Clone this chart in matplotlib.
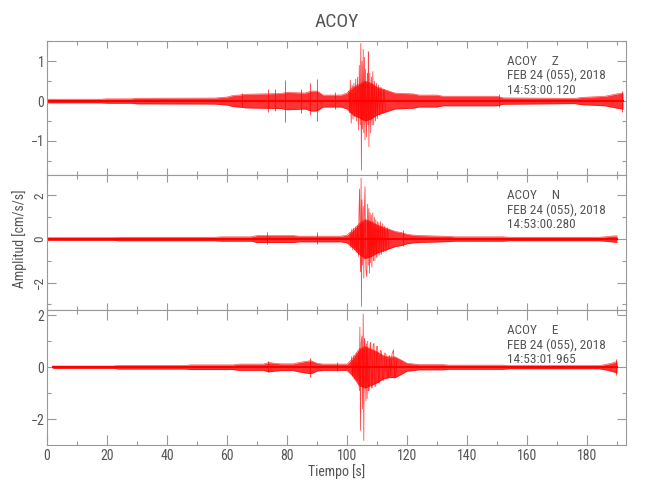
import numpy as np
import matplotlib
matplotlib.use("Agg")
import matplotlib.pyplot as plt
from matplotlib import font_manager
from matplotlib.ticker import MultipleLocator, FixedLocator

# ---------------- data ----------------
station = "ACOY"
components = ["Z", "N", "E"]
date_text = "FEB 24 (055), 2018"
start_times = ["14:53:00.120", "14:53:00.280", "14:53:01.965"]

# Z component: typical amplitude envelope (knots), isolated bursts, strong-phase peaks
z_env_t = [0, 18, 20, 28, 30, 56, 58, 60, 62, 64, 66, 78, 80, 86, 88, 90, 92, 98, 100, 102,
           104, 106, 108, 110, 112, 114, 116, 122, 124, 130, 132, 150, 152, 176, 178, 186,
           188, 190, 192]
z_env_v = [0.045, 0.045, 0.055, 0.055, 0.07, 0.075, 0.09, 0.1, 0.14, 0.15, 0.17, 0.19, 0.22,
           0.2, 0.25, 0.25, 0.15, 0.15, 0.2, 0.35, 0.42, 0.5, 0.45, 0.35, 0.3, 0.25, 0.2,
           0.18, 0.15, 0.15, 0.12, 0.12, 0.08, 0.065, 0.09, 0.12, 0.15, 0.18, 0.2]
z_burst_t = [65, 73.5, 76, 79.4, 84.5, 87.5, 89.9, 96, 150.5, 191.5]
z_burst_hi = [0.19, 0.3, 0.3, 0.53, 0.3, 0.46, 0.55, 0.22, 0.17, 0.25]
z_burst_lo = [-0.15, -0.28, -0.25, -0.52, -0.3, -0.35, -0.5, -0.2, -0.16, -0.28]
z_spk_t = [100.6, 100.9, 101.1, 101.4, 101.7, 102.0, 102.3, 102.6, 102.9, 103.2,
           103.5, 103.8, 104.1, 104.4, 104.6, 104.8, 105.0, 105.2, 105.4, 105.6,
           105.8, 106.0, 106.2, 106.5, 106.8, 107.0, 107.1, 107.3, 107.6, 107.9,
           108.2, 108.4, 108.6, 108.9, 109.2, 109.5, 109.8, 110.1, 110.5, 110.9,
           111.3, 111.8, 112.3, 112.8]
z_spk_v = [0.25, -0.30, 0.53, -0.56, 0.40, -0.45, 0.45, -0.40, 0.55, -0.50,
           0.60, -0.73, 0.90, -0.60, 1.45, -1.74, 1.00, -0.70, 1.30, -0.80,
           1.10, -0.98, 0.80, -0.90, 0.70, -0.60, 1.24, -1.15, 0.70, -0.80,
           0.60, -0.60, 0.74, -0.60, 0.50, -0.50, 0.45, -0.45, 0.40, -0.35,
           0.35, -0.30, 0.30, -0.25]

# N component
n_env_t = [0, 22, 24, 56, 58, 68, 70, 82, 84, 98, 100, 102, 104, 106, 108, 110, 112, 114,
           116, 118, 120, 122, 124, 134, 136, 152, 154, 184, 186, 188, 190]
n_env_v = [0.06, 0.06, 0.08, 0.08, 0.1, 0.1, 0.16, 0.16, 0.13, 0.13, 0.18, 0.4, 0.7, 0.9,
           0.8, 0.65, 0.55, 0.45, 0.35, 0.3, 0.22, 0.18, 0.16, 0.12, 0.1, 0.1, 0.08, 0.08,
           0.1, 0.13, 0.15]
n_burst_t = [73.3, 90.0, 118.8]
n_burst_hi = [0.34, 0.34, 0.41]
n_burst_lo = [-0.25, -0.25, -0.3]
n_spk_t = [101.0, 101.3, 101.6, 101.9, 102.2, 102.6, 102.9, 103.2, 103.5, 103.8,
           104.0, 104.2, 104.5, 104.7, 104.8, 105.0, 105.2, 105.4, 105.6, 105.8,
           106.0, 106.3, 106.6, 106.9, 107.1, 107.3, 107.5, 107.7, 107.9, 108.1,
           108.3, 108.6, 108.8, 109.1, 109.3, 109.6, 109.8, 110.1, 110.3, 110.6,
           110.9, 111.2, 111.5, 111.9, 112.2, 112.6, 113.0, 113.5, 114.0]
n_spk_v = [0.30, -0.40, 0.45, -0.50, 0.50, -0.50, 0.55, -0.60, 0.60, -0.80,
           1.20, 2.30, -1.50, 2.80, -3.10, 1.80, -1.20, 1.50, -1.80, 1.30,
           2.40, -1.40, -1.73, 1.60, -1.20, 1.40, -1.57, 1.20, -1.10, 1.10,
           -1.30, 1.20, -1.00, 1.00, -1.00, 0.90, -0.85, 0.80, -0.80, 0.75,
           -0.73, 0.80, -0.70, 0.70, -0.60, 0.60, -0.55, 0.50, -0.45]

# E component
e_env_t = [2, 22, 24, 46, 48, 62, 64, 72, 74, 76, 78, 82, 84, 86, 88, 90, 92, 100, 102, 104,
           106, 108, 110, 112, 114, 116, 118, 120, 122, 124, 132, 134, 152, 154, 184, 186,
           188, 190]
e_env_v = [0.045, 0.045, 0.07, 0.07, 0.09, 0.09, 0.12, 0.12, 0.18, 0.15, 0.13, 0.13, 0.18,
           0.22, 0.25, 0.15, 0.12, 0.12, 0.35, 0.7, 0.8, 0.7, 0.6, 0.45, 0.4, 0.4, 0.28,
           0.15, 0.13, 0.1, 0.1, 0.08, 0.08, 0.06, 0.06, 0.1, 0.15, 0.22]
e_burst_t = [73.5, 87.7, 96.6, 189.5]
e_burst_hi = [0.25, 0.35, 0.2, 0.32]
e_burst_lo = [-0.2, -0.38, -0.15, -0.3]
e_spk_t = [101.5, 101.8, 102.1, 102.4, 102.7, 103.0, 103.3, 103.6, 103.9, 104.1,
           104.3, 104.5, 104.7, 105.0, 105.2, 105.4, 105.6, 105.8, 106.0, 106.3,
           106.5, 106.7, 106.9, 107.2, 107.4, 107.7, 107.9, 108.2, 108.4, 108.7,
           109.0, 109.3, 109.6, 109.9, 110.2, 110.5, 110.8, 111.1, 111.5, 111.9,
           112.2, 112.6, 113.0, 113.4, 113.8, 114.2, 114.6, 115.0, 115.5, 115.9,
           116.2, 116.7]
e_spk_v = [0.40, -0.35, 0.45, -0.45, 0.45, -0.50, 0.55, -0.50, 0.60, -0.90,
           1.54, -2.43, 0.90, 1.20, -1.60, 2.05, -2.82, 1.10, 1.00, -1.30,
           0.90, -1.20, 1.00, -0.90, -0.87, 0.90, 0.95, -0.80, -0.80, 0.85,
           0.92, -0.70, -0.74, 0.80, 0.80, -0.60, -0.60, 0.65, 0.60, -0.50,
           -0.50, 0.55, 0.50, -0.40, -0.40, 0.45, -0.35, 0.50, 0.67, -0.42,
           -0.30, 0.30]

x_limits = (0, 193)
y_limits = [(-1.86, 1.51), (-3.26, 2.94), (-2.99, 2.2)]
y_major = [[-1, 0, 1], [-2, 0, 2], [-2, 0, 2]]
y_minor_step = [0.5, 1.0, 1.0]
x_major_ticks = [0, 20, 40, 60, 80, 100, 120, 140, 160, 180]

# ---------------- font: prefer a narrow face if one is installed ----------------
narrow_fp = None
_entries = font_manager.fontManager.ttflist
for want in ['Liberation Sans Narrow', 'Roboto Condensed', 'DejaVu Sans Condensed',
             'Open Sans Condensed', 'Noto Sans Condensed']:
    cands = [f for f in _entries if f.name == want and f.style == 'normal']
    if cands:
        cands.sort(key=lambda f: abs((f.weight if isinstance(f.weight, int) else 400) - 400))
        narrow_fp = cands[0].fname
        break
if narrow_fp is None:
    cands = [f for f in _entries if str(f.stretch) in ('condensed', 'semi-condensed')
             and f.style == 'normal']
    if cands:
        narrow_fp = cands[0].fname

if narrow_fp is not None:
    font_manager.fontManager.addfont(narrow_fp)
    fam = font_manager.FontProperties(fname=narrow_fp).get_name()
    plt.rcParams['font.family'] = [fam, 'DejaVu Sans']
    scale = 1.0
else:
    plt.rcParams['font.family'] = ['DejaVu Sans']
    scale = 0.85

# ---------------- figure ----------------
TXT = '#555555'
FRAME = '#999999'
RED = '#ff0000'
fig = plt.figure(figsize=(6.5, 5), dpi=100)

left, width = 47 / 650, 579 / 650
tops = [41, 175, 310]
bottoms = [175, 310, 445]

series = [(z_env_t, z_env_v, z_burst_t, z_burst_hi, z_burst_lo, z_spk_t, z_spk_v),
          (n_env_t, n_env_v, n_burst_t, n_burst_hi, n_burst_lo, n_spk_t, n_spk_v),
          (e_env_t, e_env_v, e_burst_t, e_burst_hi, e_burst_lo, e_spk_t, e_spk_v)]

for i in range(3):
    y0 = 1 - bottoms[i] / 500
    h = (bottoms[i] - tops[i]) / 500
    ax = fig.add_axes([left, y0, width, h])
    et, ev, bt, bhi, blo, st, sv = series[i]
    et = np.asarray(et, float)
    ev = np.asarray(ev, float)
    ax.fill_between(et, -ev, ev, color=RED, alpha=0.8, lw=0)
    ax.plot(et, ev, color=RED, lw=0.5, alpha=0.7)
    ax.plot(et, -ev, color=RED, lw=0.5, alpha=0.7)
    ax.plot([et[0], et[-1]], [0, 0], color=RED, lw=1.5)
    ax.vlines(bt, blo, bhi, color=RED, lw=0.6, alpha=0.8)
    ax.plot(st, sv, color=RED, lw=0.55, alpha=0.75)

    ax.set_xlim(*x_limits)
    ax.set_ylim(*y_limits[i])
    ax.xaxis.set_major_locator(FixedLocator(x_major_ticks))
    ax.xaxis.set_minor_locator(MultipleLocator(10))
    ax.yaxis.set_major_locator(FixedLocator(y_major[i]))
    ax.yaxis.set_minor_locator(MultipleLocator(y_minor_step[i]))
    ax.tick_params(axis='both', which='both', direction='in', colors=FRAME,
                   labelcolor=TXT, labelsize=10 * scale, width=0.8,
                   top=True, right=True)
    ax.tick_params(axis='x', which='major', length=5)
    ax.tick_params(axis='x', which='minor', length=3)
    ax.tick_params(axis='y', which='major', length=6.5, pad=2)
    ax.tick_params(axis='y', which='minor', length=3)
    for s in ax.spines.values():
        s.set_color(FRAME)
        s.set_linewidth(0.8)
    if i < 2:
        ax.tick_params(axis='x', labelbottom=False)
    else:
        ax.tick_params(axis='x', which='major', length=7, pad=3)
    if i == 1:
        ax.tick_params(axis='y', which='major', pad=0.5, labelsize=9.5 * scale)
        for lab in ax.get_yticklabels():
            lab.set_rotation(90)
            lab.set_va('center')

    fs = 9.5 * scale
    ax.text(0.795, 0.846, f"{station}     {components[i]}", transform=ax.transAxes,
            color=TXT, fontsize=fs, va='center', ha='left')
    ax.text(0.795, 0.742, date_text, transform=ax.transAxes,
            color=TXT, fontsize=fs, va='center', ha='left')
    ax.text(0.795, 0.634, start_times[i], transform=ax.transAxes,
            color=TXT, fontsize=fs, va='center', ha='left')

fig.text(337 / 650, 1 - 22 / 500, station, ha='center', va='center',
         color=TXT, fontsize=14 * scale)
fig.text(20 / 650, 1 - 239 / 500, "Amplitud [cm/s/s]", rotation=90,
         ha='center', va='center', color=TXT, fontsize=10 * scale)
fig.text(337 / 650, 1 - 472 / 500, "Tiempo [s]", ha='center', va='center',
         color=TXT, fontsize=10 * scale)

fig.savefig("out.png", dpi=100)
